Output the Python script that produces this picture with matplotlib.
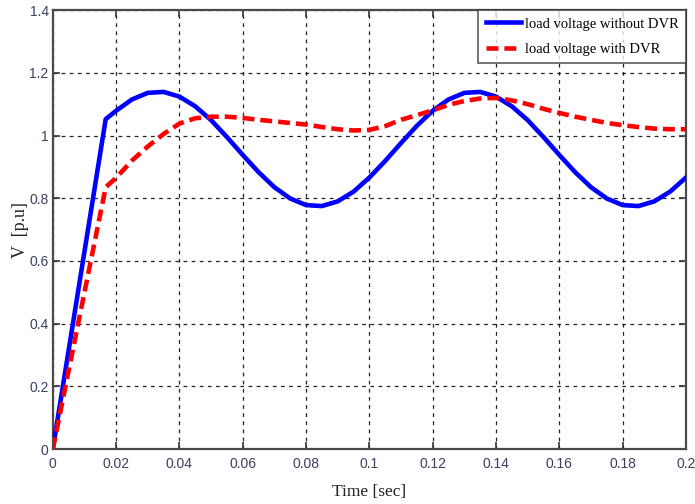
import matplotlib
matplotlib.use("Agg")
import matplotlib.pyplot as plt

# Time samples [s]
t_without = [0.0, 0.0167, 0.02, 0.025, 0.03, 0.035, 0.04, 0.045, 0.05, 0.055,
             0.06, 0.065, 0.07, 0.075, 0.08, 0.085, 0.09, 0.095, 0.1, 0.105,
             0.11, 0.115, 0.12, 0.125, 0.13, 0.135, 0.14, 0.145, 0.15, 0.155,
             0.16, 0.165, 0.17, 0.175, 0.18, 0.185, 0.19, 0.195, 0.2]
v_without = [0.0, 1.052, 1.079, 1.115, 1.136, 1.139, 1.124, 1.093, 1.049, 0.995,
             0.938, 0.883, 0.835, 0.799, 0.778, 0.775, 0.790, 0.821, 0.866, 0.919,
             0.976, 1.031, 1.079, 1.115, 1.136, 1.139, 1.124, 1.093, 1.049, 0.995,
             0.938, 0.883, 0.835, 0.799, 0.778, 0.775, 0.790, 0.821, 0.866]

t_with = t_without
v_with = [0.0, 0.835, 0.865, 0.92, 0.965, 1.005, 1.038, 1.055, 1.06, 1.06,
          1.056, 1.05, 1.045, 1.04, 1.035, 1.027, 1.02, 1.016, 1.018, 1.03,
          1.05, 1.065, 1.08, 1.098, 1.11, 1.118, 1.12, 1.112, 1.1, 1.085,
          1.072, 1.06, 1.05, 1.04, 1.033, 1.027, 1.022, 1.02, 1.02]

x_ticks = [0, 0.02, 0.04, 0.06, 0.08, 0.1, 0.12, 0.14, 0.16, 0.18, 0.2]
x_tick_labels = ["0", "0.02", "0.04", "0.06", "0.08", "0.1", "0.12", "0.14",
                 "0.16", "0.18", "0.2"]
y_ticks = [0, 0.2, 0.4, 0.6, 0.8, 1.0, 1.2, 1.4]
y_tick_labels = ["0", "0.2", "0.4", "0.6", "0.8", "1", "1.2", "1.4"]

tick_font = ["Liberation Sans", "DejaVu Sans"]
serif_font = ["Liberation Serif", "DejaVu Serif"]
tick_color = "#3a4060"

fig = plt.figure(figsize=(6.95, 5.04), dpi=100)
ax = fig.add_axes([0.076, 0.109, 0.911, 0.871])

ax.plot(t_without, v_without, color="#0000ff", lw=3.3,
        label="load voltage without DVR", zorder=3)
ax.plot(t_with, v_with, color="#ff0000", lw=3.3, ls=(0, (2.6, 1.3)),
        label="load voltage with DVR", zorder=4)

ax.set_xlim(0, 0.2)
ax.set_ylim(0, 1.4)
ax.set_xticks(x_ticks)
ax.set_xticklabels(x_tick_labels, family=tick_font, fontsize=10, color=tick_color)
ax.set_yticks(y_ticks)
ax.set_yticklabels(y_tick_labels, family=tick_font, fontsize=10, color=tick_color)

ax.grid(True, color="#222222", ls=(0, (3, 3.5)), lw=0.9)
ax.tick_params(direction="in", length=5, width=1.2, top=True, right=True,
               color="#333333", pad=6)
ax.tick_params(axis="y", pad=3)
for s in ax.spines.values():
    s.set_color("#4a4a4a")
    s.set_linewidth(1.6)

ax.set_xlabel("Time [sec]", family=serif_font, fontsize=12.5, color="#222222",
              labelpad=9)
ax.set_ylabel("V  [p.u]", family=serif_font, fontsize=13, color="#222222",
              labelpad=0)

leg = ax.legend(loc="upper right", prop={"family": serif_font, "size": 10.5},
                frameon=True, fancybox=False, edgecolor="#333333",
                borderaxespad=0, handlelength=2.4, handletextpad=0.3,
                borderpad=0.5, labelspacing=0.85)
leg.get_frame().set_linewidth(1.2)

fig.savefig("out.png", dpi=100)
